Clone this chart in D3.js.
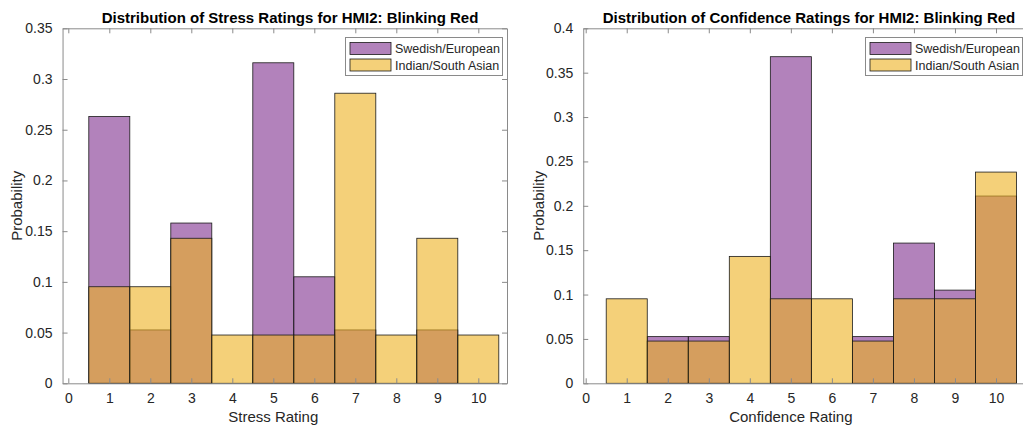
<!DOCTYPE html>
<html>
<head>
<meta charset="utf-8">
<script src="https://cdn.jsdelivr.net/npm/d3@7/dist/d3.min.js"></script>
<style>
  html, body { margin: 0; padding: 0; background: #fff; }
  svg { display: block; font-family: "Liberation Sans", Arial, sans-serif; }
</style>
</head>
<body>
<svg id="chart" width="1023" height="427"></svg>
<script>
// Rating bins shared by both histograms
const ratings = [1, 2, 3, 4, 5, 6, 7, 8, 9, 10];
const xTicks = [0, 1, 2, 3, 4, 5, 6, 7, 8, 9, 10];
const seriesNames = ["Swedish/European", "Indian/South Asian"];

// Stress ratings (probability per bin)
const stressSwedish = [0.263, 0.0526, 0.158, 0, 0.316, 0.105, 0.0526, 0, 0.0526, 0];
const stressIndian  = [0.0952, 0.0952, 0.143, 0.0476, 0.0476, 0.0476, 0.286, 0.0476, 0.143, 0.0476];
const stressYTicks  = [0, 0.05, 0.1, 0.15, 0.2, 0.25, 0.3, 0.35];

// Confidence ratings (probability per bin)
const confSwedish = [0, 0.0526, 0.0526, 0, 0.368, 0, 0.0526, 0.158, 0.105, 0.211];
const confIndian  = [0.0952, 0.0476, 0.0476, 0.143, 0.0952, 0.0952, 0.0476, 0.0952, 0.0952, 0.238];
const confYTicks  = [0, 0.05, 0.1, 0.15, 0.2, 0.25, 0.3, 0.35, 0.4];

const svg = d3.select("#chart");

const baseColors = ["rgb(126,47,142)", "rgb(237,177,32)"];
const faceAlpha = 0.6;
const axisColor = "#8a8a8a";
const textColor = "#262626";

function drawPanel(opts) {
  const { title, titleX, xLabel, series, yTicks, yMax, xDomain, xRange, yRange, yLabelX, legendRight } = opts;

  const x = d3.scaleLinear().domain(xDomain).range(xRange);
  const y = d3.scaleLinear().domain([0, yMax]).range(yRange);
  const g = svg.append("g");

  const [x0, x1] = xRange;
  const [yb, yt] = yRange;

  // Histogram bars, one layer per series, drawn translucent so overlaps blend
  series.forEach((vals, si) => {
    g.append("g").selectAll("rect")
      .data(ratings.map((r, i) => ({ r, v: vals[i] })).filter(d => d.v > 0))
      .join("rect")
      .attr("x", d => x(d.r - 0.5))
      .attr("width", d => x(d.r + 0.5) - x(d.r - 0.5))
      .attr("y", d => y(d.v))
      .attr("height", d => y(0) - y(d.v))
      .attr("fill", baseColors[si])
      .attr("fill-opacity", faceAlpha)
      .attr("stroke", "#1a1a1a")
      .attr("stroke-width", 0.8);
  });

  // Bottom axis with inward ticks
  const xAxisB = d3.axisBottom(x).tickValues(xTicks).tickSizeInner(-5).tickSizeOuter(0).tickPadding(10).tickFormat(d3.format("d"));
  const gxb = g.append("g").attr("transform", `translate(0,${yb})`).call(xAxisB);
  // Top axis ticks (box)
  const xAxisT = d3.axisTop(x).tickValues(xTicks).tickSizeInner(-5).tickSizeOuter(0).tickFormat("");
  const gxt = g.append("g").attr("transform", `translate(0,${yt})`).call(xAxisT);

  const fmt = v => String(+v.toFixed(2));
  const yAxisL = d3.axisLeft(y).tickValues(yTicks).tickSizeInner(-5).tickSizeOuter(0).tickPadding(10).tickFormat(fmt);
  const gyl = g.append("g").attr("transform", `translate(${x0},0)`).call(yAxisL);
  const yAxisR = d3.axisRight(y).tickValues(yTicks).tickSizeInner(-5).tickSizeOuter(0).tickFormat("");
  const gyr = g.append("g").attr("transform", `translate(${x1},0)`).call(yAxisR);

  [gxb, gxt, gyl, gyr].forEach(a => {
    a.select(".domain").attr("stroke", axisColor).attr("stroke-width", 1);
    a.selectAll(".tick line").attr("stroke", axisColor).attr("stroke-width", 1);
    a.selectAll(".tick text").attr("fill", textColor).attr("font-size", 14)
      .attr("font-family", "Liberation Sans, Arial, sans-serif");
  });

  // Title
  g.append("text")
    .attr("x", titleX)
    .attr("y", 23)
    .attr("text-anchor", "middle")
    .attr("font-size", 15)
    .attr("font-weight", "bold")
    .attr("fill", "#000")
    .text(title);

  // Axis labels
  g.append("text")
    .attr("x", x(5))
    .attr("y", 422)
    .attr("text-anchor", "middle")
    .attr("font-size", 15)
    .attr("fill", textColor)
    .text(xLabel);

  g.append("text")
    .attr("transform", `translate(${yLabelX},${(yb + yt) / 2}) rotate(-90)`)
    .attr("text-anchor", "middle")
    .attr("font-size", 15)
    .attr("fill", textColor)
    .text("Probability");

  // Legend in the top-right corner
  const lw = 157, lh = 38;
  const lx = legendRight - lw, ly = 37.5;
  const leg = g.append("g").attr("transform", `translate(${lx},${ly})`);
  leg.append("rect")
    .attr("width", lw).attr("height", lh)
    .attr("fill", "#fff").attr("stroke", axisColor).attr("stroke-width", 1);
  seriesNames.forEach((name, i) => {
    const row = leg.append("g").attr("transform", `translate(4.5,${5 + i * 16.5})`);
    row.append("rect")
      .attr("width", 41).attr("height", 12)
      .attr("fill", baseColors[i]).attr("fill-opacity", faceAlpha)
      .attr("stroke", "#1a1a1a").attr("stroke-width", 0.8);
    row.append("text")
      .attr("x", 45).attr("y", 10.5)
      .attr("font-size", 12.5)
      .attr("fill", textColor)
      .text(name);
  });
}

drawPanel({
  title: "Distribution of Stress Ratings for HMI2: Blinking Red",
  titleX: 290,
  xLabel: "Stress Rating",
  series: [stressSwedish, stressIndian],
  yTicks: stressYTicks,
  yMax: 0.35,
  xDomain: [-0.14, 10.7],
  xRange: [68.3 - 0.14 * 41, 68.3 + 10.7 * 41],
  yRange: [383.3, 28.3],
  yLabelX: 22,
  legendRight: 502.5
});

drawPanel({
  title: "Distribution of Confidence Ratings for HMI2: Blinking Red",
  titleX: 809,
  xLabel: "Confidence Rating",
  series: [confSwedish, confIndian],
  yTicks: confYTicks,
  yMax: 0.4,
  xDomain: [-0.06, 10.8],
  xRange: [585.7 - 0.06 * 41.03, 585.7 + 10.8 * 41.03],
  yRange: [383.3, 28.3],
  yLabelX: 544,
  legendRight: 1022.5
});
</script>
</body>
</html>
